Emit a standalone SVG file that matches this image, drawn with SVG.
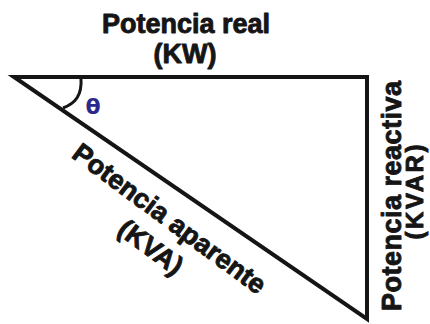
<svg xmlns="http://www.w3.org/2000/svg" width="430" height="324" viewBox="0 0 430 324">
  <style>
    .lbl { font-family: "Liberation Sans", Arial, sans-serif; font-weight: bold; fill: #151515; stroke: #151515; stroke-width: 0.9; stroke-linejoin: round; text-anchor: middle; }
    .edge { fill: none; stroke: #151515; stroke-width: 4; stroke-linejoin: miter; stroke-miterlimit: 10; }
    .arc { fill: none; stroke: #151515; stroke-width: 3; }
    .theta { font-family: "DejaVu Sans", sans-serif; font-weight: bold; fill: #2b2a8c; text-anchor: middle; }
  </style>
  <rect width="430" height="324" fill="#ffffff"/>
  <g id="connectors">
    <polygon class="edge" points="14,77 367,77 367,319"/>
    <path class="arc" d="M81,78 C82,95 76,103 63,108"/>
  </g>
  <g id="angle">
    <text class="theta" x="93" y="114" font-size="22">θ</text>
  </g>
  <g id="real">
    <text class="lbl" x="186" y="33" font-size="27">Potencia real</text>
    <text class="lbl" x="185" y="63" font-size="27">(KW)</text>
  </g>
  <g id="aparente">
    <g transform="translate(164,226) rotate(36.5)">
      <text class="lbl" x="0" y="0" font-size="27">Potencia aparente</text>
      <text class="lbl" x="2" y="34" font-size="27">(KVA)</text>
    </g>
  </g>
  <g id="reactiva">
    <g transform="translate(401,196) rotate(-90)">
      <text class="lbl" x="0" y="0" font-size="27" textLength="230" lengthAdjust="spacing">Potencia reactiva</text>
      <text class="lbl" x="4" y="22" font-size="24" textLength="95" lengthAdjust="spacing">(KVAR)</text>
    </g>
  </g>
</svg>
